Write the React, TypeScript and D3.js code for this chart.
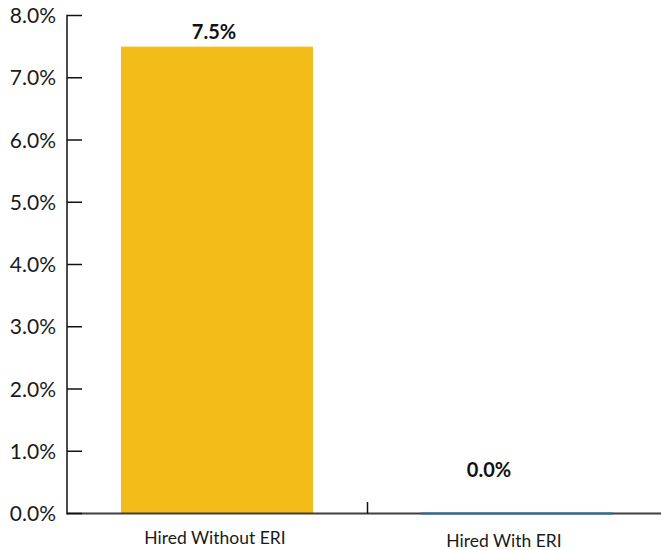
import React from "react";
import * as d3 from "d3";

const categories = ["Hired Without ERI", "Hired With ERI"];
const values = [7.5, 0.0];
const barColors = ["#F4BC18", "#1F6E9E"];
const yTicks = [0, 1, 2, 3, 4, 5, 6, 7, 8];

const W = 661;
const H = 550;
const axisX = 67;
const baseY = 513.5;
const topY = 15.5;

// Small nudges for the value and category labels of each bar
const valueLabelDx = [-3, -28];
const valueLabelY = [39, 477];
const catLabelDx = [-2, -13];
const catLabelY = [544, 547];

const fmt = (v: number) => v.toFixed(1) + "%";

export default function App() {
  const y = d3.scaleLinear().domain([0, 8]).range([baseY, topY]);
  const x = d3
    .scaleBand<string>()
    .domain(categories)
    .range([axisX, axisX + 600])
    .paddingInner(0.36)
    .paddingOuter(0.18);
  const step = x.step();
  const font = "Lato, 'Open Sans', sans-serif";

  return (
    <svg
      width={W}
      height={H}
      style={{ position: "absolute", left: 0, top: 0, display: "block", background: "#fff" }}
    >
      {/* bars */}
      {categories.map((c, i) => {
        const x0 = x(c)!;
        const yv = y(values[i]);
        const h = Math.max(baseY - yv, 0);
        return h > 0.5 ? (
          <rect key={c} x={x0} y={yv} width={x.bandwidth()} height={h} fill={barColors[i]} />
        ) : null;
      })}

      {/* x axis baseline */}
      <line x1={axisX} x2={W} y1={baseY} y2={baseY} stroke="#3f3f3f" strokeWidth={2} />

      {/* zero-height bars drawn as a line on the baseline */}
      {categories.map((c, i) =>
        baseY - y(values[i]) <= 0.5 ? (
          <line
            key={c}
            x1={x(c)!}
            x2={x(c)! + x.bandwidth()}
            y1={baseY}
            y2={baseY}
            stroke={barColors[i]}
            strokeWidth={2}
          />
        ) : null
      )}

      {/* category separators */}
      {categories.slice(1).map((c) => {
        const sx = Math.round(x(c)! - (step - x.bandwidth()) / 2) + 0.5;
        return <line key={c} x1={sx} x2={sx} y1={502} y2={baseY} stroke="#111" strokeWidth={1.5} />;
      })}

      {/* y axis */}
      <line x1={axisX} x2={axisX} y1={topY - 0.75} y2={baseY + 1} stroke="#111" strokeWidth={1.5} />
      {yTicks.map((t) => (
        <g key={t}>
          <line x1={axisX} x2={axisX + 15} y1={y(t)} y2={y(t)} stroke="#111" strokeWidth={1.5} />
          <text
            x={56}
            y={y(t)}
            dy="0.36em"
            textAnchor="end"
            fontFamily={font}
            fontSize={21}
            fill="#1a1a1a"
          >
            {fmt(t)}
          </text>
        </g>
      ))}

      {/* value labels */}
      {categories.map((c, i) => (
        <text
          key={c}
          x={x(c)! + x.bandwidth() / 2 + valueLabelDx[i]}
          y={valueLabelY[i]}
          textAnchor="middle"
          fontFamily={font}
          fontWeight="bold"
          fontSize={20}
          fill="#111"
        >
          {fmt(values[i])}
        </text>
      ))}

      {/* category labels */}
      {categories.map((c, i) => (
        <text
          key={c}
          x={x(c)! + x.bandwidth() / 2 + catLabelDx[i]}
          y={catLabelY[i]}
          textAnchor="middle"
          fontFamily={font}
          fontSize={17.5}
          fill="#1a1a1a"
        >
          {c}
        </text>
      ))}
    </svg>
  );
}
